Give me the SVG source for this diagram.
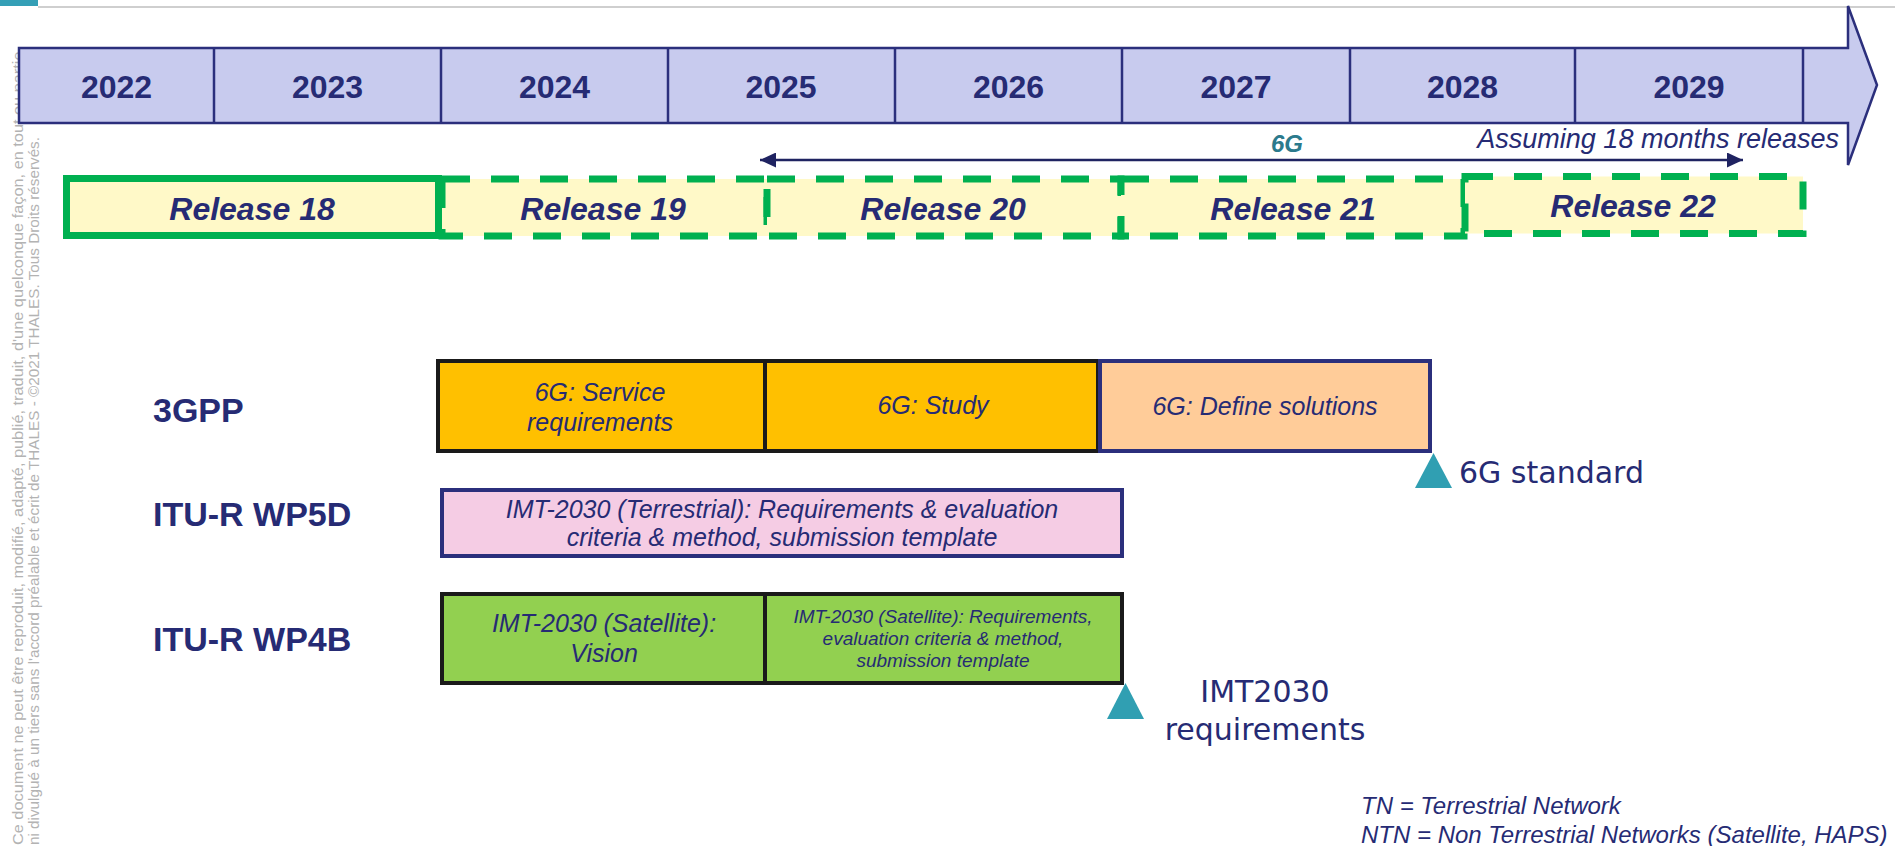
<svg xmlns="http://www.w3.org/2000/svg" width="1895" height="846" viewBox="0 0 1895 846">
<defs>
<style>
.yr{font-family:"Liberation Sans",Arial,sans-serif;font-weight:bold;font-size:32px;fill:#262b74;text-anchor:middle}
.rel{font-family:"Liberation Sans",Arial,sans-serif;font-weight:bold;font-style:italic;font-size:32px;fill:#262b74;text-anchor:middle}
.lbl{font-family:"Liberation Sans",Arial,sans-serif;font-weight:bold;font-size:34px;fill:#262b74}
.it{font-family:"Liberation Sans",Arial,sans-serif;font-style:italic;font-size:25px;fill:#262b74;text-anchor:middle}
.its{font-family:"Liberation Sans",Arial,sans-serif;font-style:italic;font-size:19px;fill:#262b74;text-anchor:middle}
.ms{font-family:"DejaVu Sans",Verdana,sans-serif;font-size:30px;fill:#262b74}
.fn{font-family:"Liberation Sans",Arial,sans-serif;font-style:italic;font-size:24px;fill:#262b74}
.wm{font-family:"Liberation Sans",Arial,sans-serif;font-size:15px;fill:#b3b3b3}
.relbox{fill:#fff9c8;stroke:#00b050;stroke-width:7}
.dash{stroke-dasharray:28 21}
.gold{fill:#ffc000;stroke:#1a1a1a;stroke-width:4}
.peach{fill:#ffcc99;stroke:#2b2f7c;stroke-width:4}
.pink{fill:#f5cce4;stroke:#2b2f7c;stroke-width:4}
.green{fill:#92d050;stroke:#1a1a1a;stroke-width:4}
.tri{fill:#309fb2}
.div{stroke:#2b2f7c;stroke-width:2.5}
</style>
<marker id="ah" viewBox="0 0 16 15" refX="16" refY="7.5" markerWidth="16" markerHeight="15" markerUnits="userSpaceOnUse" orient="auto-start-reverse">
<path d="M0,0 L16,7.5 L0,15 z" fill="#1f2361"/>
</marker>
</defs>
<rect width="1895" height="846" fill="#ffffff"/>

<!-- header -->
<rect x="0" y="0" width="38" height="6" fill="#349fb6"/>
<line x1="38" y1="7" x2="1895" y2="7" stroke="#cfcfcf" stroke-width="2"/>

<!-- watermark -->
<g id="watermark">
<text class="wm" transform="translate(23,845) rotate(-90)" textLength="798" lengthAdjust="spacingAndGlyphs">Ce document ne peut être reproduit, modifié, adapté, publié, traduit, d'une quelconque façon, en tout ou partie,</text>
<text class="wm" transform="translate(39,845) rotate(-90)" textLength="708" lengthAdjust="spacingAndGlyphs">ni divulgué à un tiers sans l'accord préalable et écrit de THALES  -  ©2021 THALES. Tous Droits réservés.</text>
</g>

<!-- timeline arrow -->
<g id="timeline">
<polygon points="19,48 1848,48 1848,6 1877,85 1848,165 1848,123 19,123" fill="#c8cbee" stroke="#2b2f7c" stroke-width="2.5" stroke-linejoin="miter"/>
<line class="div" x1="214" y1="48" x2="214" y2="123"/>
<line class="div" x1="441" y1="48" x2="441" y2="123"/>
<line class="div" x1="668" y1="48" x2="668" y2="123"/>
<line class="div" x1="895" y1="48" x2="895" y2="123"/>
<line class="div" x1="1122" y1="48" x2="1122" y2="123"/>
<line class="div" x1="1350" y1="48" x2="1350" y2="123"/>
<line class="div" x1="1575" y1="48" x2="1575" y2="123"/>
<line class="div" x1="1803" y1="48" x2="1803" y2="123"/>
<text class="yr" x="116.5" y="98">2022</text>
<text class="yr" x="327.5" y="98">2023</text>
<text class="yr" x="554.5" y="98">2024</text>
<text class="yr" x="781" y="98">2025</text>
<text class="yr" x="1008.5" y="98">2026</text>
<text class="yr" x="1236" y="98">2027</text>
<text class="yr" x="1462.5" y="98">2028</text>
<text class="yr" x="1689" y="98">2029</text>
</g>

<!-- releases -->
<g id="release19">
<rect class="relbox dash" x="442" y="179" width="325" height="57"/>
<text class="rel" x="603" y="220">Release 19</text>
</g>
<g id="release20">
<rect class="relbox dash" x="767" y="179" width="354" height="57"/>
<text class="rel" x="943" y="220">Release 20</text>
</g>
<g id="release21">
<rect class="relbox dash" x="1121" y="179" width="343" height="57"/>
<text class="rel" x="1293" y="220">Release 21</text>
</g>
<g id="release22">
<rect class="relbox dash" x="1465" y="176.5" width="338" height="57"/>
<text class="rel" x="1633" y="217">Release 22</text>
</g>
<g id="release18">
<rect class="relbox" x="66.5" y="178.5" width="372" height="57"/>
<text class="rel" x="252" y="220">Release 18</text>
</g>

<!-- 6G span -->
<g id="connectors">
<line x1="760" y1="160" x2="1743" y2="160" stroke="#1f2361" stroke-width="2.5" marker-start="url(#ah)" marker-end="url(#ah)"/>
</g>
<g id="label6g">
<text x="1287" y="152" font-family="Liberation Sans, Arial, sans-serif" font-weight="bold" font-style="italic" font-size="24" fill="#2b7a8c" text-anchor="middle">6G</text>
</g>
<g id="assuming">
<text x="1839" y="148" font-family="Liberation Sans, Arial, sans-serif" font-style="italic" font-size="27" fill="#262b74" text-anchor="end">Assuming 18 months releases</text>
</g>

<!-- row labels -->
<g id="row-3gpp"><text class="lbl" x="153" y="422">3GPP</text></g>
<g id="row-wp5d"><text class="lbl" x="153" y="526">ITU-R WP5D</text></g>
<g id="row-wp4b"><text class="lbl" x="153" y="651">ITU-R WP4B</text></g>

<!-- 3GPP boxes -->
<g id="gpp-service">
<rect class="gold" x="438" y="361" width="327" height="90"/>
<text class="it" x="600" y="401">6G: Service</text>
<text class="it" x="600" y="431">requirements</text>
</g>
<g id="gpp-study">
<rect class="gold" x="765" y="361" width="333" height="90"/>
<text class="it" x="933" y="414">6G: Study</text>
</g>
<g id="gpp-define">
<rect class="peach" x="1100" y="361" width="330" height="90"/>
<text class="it" x="1265" y="415">6G: Define solutions</text>
</g>

<!-- WP5D -->
<g id="wp5d-box">
<rect class="pink" x="442" y="490" width="680" height="66"/>
<text class="it" x="782" y="518">IMT-2030 (Terrestrial): Requirements &amp; evaluation</text>
<text class="it" x="782" y="546">criteria &amp; method, submission template</text>
</g>

<!-- WP4B -->
<g id="wp4b-vision">
<rect class="green" x="442" y="594" width="323" height="89"/>
<text class="it" x="604" y="632">IMT-2030 (Satellite):</text>
<text class="it" x="604" y="662">Vision</text>
</g>
<g id="wp4b-req">
<rect class="green" x="765" y="594" width="357" height="89"/>
<text class="its" x="943" y="623">IMT-2030 (Satellite): Requirements,</text>
<text class="its" x="943" y="645">evaluation criteria &amp; method,</text>
<text class="its" x="943" y="667">submission template</text>
</g>

<!-- milestones -->
<g id="milestone-6g">
<polygon class="tri" points="1415,488 1452,488 1433.5,453"/>
<text class="ms" x="1459" y="483">6G standard</text>
</g>
<g id="milestone-imt">
<polygon class="tri" points="1107,719 1144,719 1125.5,683"/>
<text class="ms" x="1265" y="702" text-anchor="middle">IMT2030</text>
<text class="ms" x="1265" y="740" text-anchor="middle">requirements</text>
</g>

<!-- footnote -->
<g id="footnote">
<text class="fn" x="1361" y="814">TN = Terrestrial Network</text>
<text class="fn" x="1361" y="843">NTN = Non Terrestrial Networks (Satellite, HAPS)</text>
</g>
</svg>
